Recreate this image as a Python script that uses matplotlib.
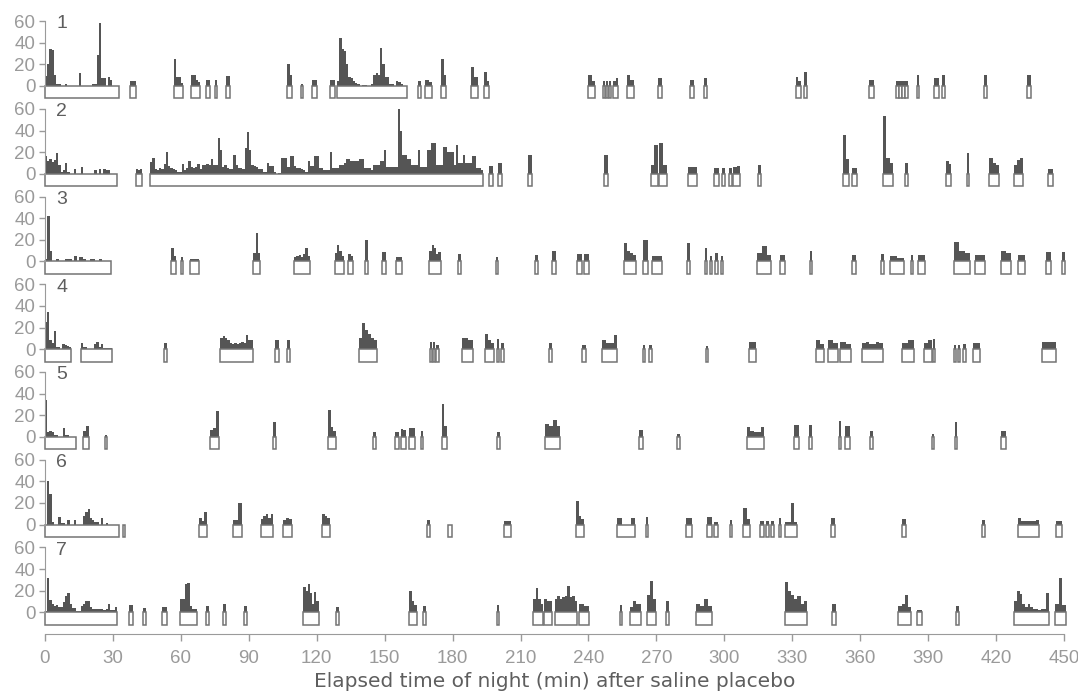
import matplotlib
matplotlib.use("Agg")
import matplotlib.pyplot as plt
from matplotlib.patches import Rectangle

plt.rcParams["font.family"] = ["Liberation Sans", "DejaVu Sans"]

# Each episode: (start min, end min, activity heights spread evenly over the episode)
night1 = [
    (0, 32.7, [9, 20, 34, 33, 10, 2, 2, 0, 0, 2, 0, 0, 0, 0, 0, 12, 0, 0, 0, 0, 0,
               2, 2, 29, 58, 7, 7, 0, 8, 6, 0, 0, 0]),
    (37.6, 40.2, [5]), (57, 61, [25, 8, 8, 3]), (64.5, 68.5, [10, 10, 6, 4]),
    (71, 73, [6]), (75, 76, [6]), (80, 81.5, [9]), (107, 109, [20, 10]),
    (113, 114, [2]), (118, 120, [6]), (126, 128, [6]),
    (129, 160, [5, 44, 34, 32, 20, 8, 7, 5, 3, 2, 0, 1, 1, 0, 0, 2, 10, 12, 10, 35,
                20, 8, 8, 2, 2, 0, 5, 4, 2, 0, 0]),
    (164.5, 166, [5]), (168, 171, [6, 4]), (175, 177, [25, 10]), (188, 191, [18, 8]),
    (194, 196, [13, 5]), (240, 243, [10, 5]), (246.5, 247.5, [5]), (247.8, 248.8, [5]),
    (249.1, 250.1, [5]), (251, 253, [5, 7]), (257, 260, [10, 6]), (270.5, 272.5, [7]),
    (285, 286.5, [6]), (291, 292.5, [7]), (331.5, 334, [8, 5]), (335, 336.5, [13]),
    (364, 366, [6]), (376, 377, [5]), (377.3, 378.3, [5]), (378.6, 379.6, [5]),
    (380, 381, [5]), (385, 386, [10]), (392.5, 395, [7]), (396, 397.5, [10]),
    (414.7, 416, [10]), (433.7, 435.5, [10]),
]

night2 = [
    (0, 31.7, [16, 12, 14, 11, 13, 19, 8, 2, 3, 10, 2, 0, 0, 4, 0, 0, 6, 0, 0, 0, 0,
               0, 3, 0, 4, 0, 4, 3, 3, 0, 0, 0]),
    (40, 43, [4, 3, 4]),
    (46.4, 193.5, [11, 15, 4, 3, 5, 4, 9, 20, 7, 5, 4, 3, 2, 2, 9, 3, 5, 12, 6, 5,
                   6, 9, 4, 8, 8, 9, 8, 14, 8, 8, 33, 22, 6, 8, 5, 4, 4, 17, 8, 5,
                   5, 4, 24, 39, 22, 8, 7, 6, 4, 4, 2, 2, 10, 7, 7, 2, 0, 1, 15, 15,
                   15, 6, 16, 16, 7, 5, 5, 4, 3, 2, 12, 7, 7, 16, 16, 5, 5, 3, 3, 3,
                   20, 5, 5, 5, 8, 8, 10, 14, 14, 12, 12, 12, 12, 14, 14, 5, 5, 5, 3, 8,
                   8, 8, 12, 12, 22, 6, 6, 6, 6, 6, 60, 40, 17, 17, 14, 14, 8, 8, 8, 22,
                   6, 6, 6, 22, 22, 28, 28, 8, 8, 8, 25, 25, 20, 20, 20, 8, 27, 10, 10, 17,
                   10, 10, 10, 16, 16, 5, 5, 3]),
    (196, 198, [7]), (200, 202, [10]), (213.5, 215, [17]), (246.7, 248.5, [17]),
    (267.5, 270.5, [8, 27]), (271, 274.5, [28, 8]), (284, 288, [6, 6]),
    (295.5, 297.5, [5]), (299, 300.5, [5]), (302, 303.6, [5]), (304, 307, [6, 7]),
    (315, 316, [8]), (352.5, 355, [36, 14]), (356.5, 358.5, [5]),
    (370, 374.5, [53, 15, 10]), (380, 381, [10]), (398, 400, [12, 9]),
    (407, 408, [19]), (417, 421.5, [15, 10, 8]), (428, 432, [8, 13, 15]),
    (443, 445, [4]),
]

night3 = [
    (0, 29, [2, 42, 10, 0, 0, 2, 0, 0, 0, 2, 2, 2, 0, 5, 0, 4, 4, 2, 0, 0, 2, 2, 0,
             0, 2, 0, 0, 0, 0]),
    (55.7, 58, [12, 5]), (60, 61, [4]), (64, 68, [2, 2]), (92, 95, [8, 26, 8]),
    (110, 117, [4, 5, 6, 4, 7, 12, 5]), (128, 132, [8, 15, 10, 5]), (134, 136, [7, 5]),
    (141.5, 142.5, [20]), (148.7, 150.8, [9]), (155, 157.5, [4, 4]),
    (169.7, 174.7, [10, 15, 12, 7, 9]), (182.2, 183.9, [7]), (199, 200, [4]),
    (216.5, 217.5, [6]), (224.1, 225.5, [10]), (235, 237.2, [7]), (238, 240.2, [7]),
    (255.5, 261.1, [17, 10, 8, 6]), (264.3, 266.4, [20]), (268, 272.6, [5, 5]),
    (283.5, 284.8, [17]), (291.5, 292.5, [12]), (293.5, 294.5, [5]), (296, 297, [8]),
    (298.4, 299.4, [5]), (314.5, 320.8, [8, 14, 6]), (324.6, 326.7, [6]),
    (337.7, 338.7, [10]), (356.4, 358.1, [6]), (369, 370.6, [7]), (373.1, 379.4, [5, 3]),
    (382.5, 383.5, [6]), (385.5, 388.8, [6]), (401.4, 408.7, [18, 10, 8]),
    (410.8, 415, [6]), (422.3, 426.5, [10, 8]), (429.7, 432.8, [6]), (442.2, 444.3, [9]),
    (449, 450.5, [9]),
]

night4 = [
    (0, 11.5, [25, 34, 8, 6, 17, 2, 2, 0, 5, 4, 3, 2]),
    (15.8, 29.6, [6, 2, 2, 0, 0, 0, 5, 7, 2, 5, 1, 1, 1, 1]),
    (52.6, 53.9, [6]),
    (77.4, 91.8, [10, 12, 10, 8, 6, 5, 6, 5, 6, 7, 6, 13, 8, 8]),
    (101.4, 103.5, [8]), (107, 108, [8]), (138.7, 146.6, [10, 24, 18, 14, 10, 8]),
    (169.8, 170.8, [7]), (171.2, 172.2, [7]), (172.6, 174, [4]), (184.3, 188.9, [10, 8]),
    (194.1, 198.5, [14, 8, 6]), (199.5, 200.5, [9]), (201.2, 202.5, [6]),
    (222.4, 224, [6]), (237, 238.7, [4]), (245.9, 252.8, [8, 6, 6, 13]),
    (263.9, 265, [4]), (266.8, 268, [4]), (292, 293, [3]), (310.7, 314.1, [7]),
    (340.7, 343.8, [8, 5]), (345.9, 350.1, [8, 6]), (351.2, 356, [7, 5]),
    (361, 370, [6, 7, 5, 5, 7, 6]), (378.4, 383.6, [6, 8]), (388.2, 391.5, [6, 8]),
    (392, 393, [9]), (401.4, 402.4, [4]), (403, 404, [4]), (405.6, 406.6, [5]),
    (409.8, 412.9, [6]), (440.1, 446.4, [7, 7]),
]

night5 = [
    (0, 13.7, [34, 4, 5, 4, 2, 2, 0, 0, 8, 2, 2, 0, 0, 0]),
    (16.6, 19.5, [5, 10]), (26.4, 27.6, [2]), (73, 76.8, [6, 8, 24]),
    (100.6, 101.8, [14]), (124.9, 128.6, [25, 9, 5]), (145, 146, [4]),
    (154.4, 156.5, [4]), (157, 159.6, [7, 6]), (160.6, 163.4, [8]), (165.9, 167.1, [5]),
    (175.3, 177.4, [30, 10]), (199.8, 201, [4]), (220.9, 227.6, [12, 10, 16, 10]),
    (262.2, 263.9, [6]), (279.3, 280.6, [3]), (310, 317.7, [9, 5, 4, 4, 9]),
    (330.8, 333, [11]), (337.5, 338.7, [11]), (350.5, 351.7, [15]), (353.2, 355.3, [10]),
    (364.3, 365.5, [5]), (391.5, 392.7, [3]), (401.8, 402.9, [14]), (422.3, 424.4, [5]),
]

night6 = [
    (0, 32.7, [0, 40, 28, 2, 0, 0, 7, 1, 1, 0, 4, 0, 0, 4, 0, 0, 0, 8, 12, 14, 6, 4,
               2, 2, 0, 6, 0, 1, 0, 0, 0, 0, 0]),
    (34.3, 35.3, [0]), (67.9, 71.7, [6, 3, 12]), (83.2, 86.9, [4, 20]),
    (95.3, 100.9, [5, 8, 10, 6, 10]), (105.3, 109, [4, 6, 5]), (122.2, 125.9, [10, 8, 6]),
    (168.6, 170.1, [4]), (178, 179.7, [0]), (202.5, 205.7, [3]), (234.5, 238, [22, 8, 5]),
    (252.8, 260.5, [6, 0, 0, 6]), (265.3, 266.5, [7]), (283.1, 285.6, [6]),
    (292.5, 294.6, [7]), (295.3, 297.4, [2]), (302.4, 303.6, [4]), (308.2, 311.4, [15, 5]),
    (315.6, 317.3, [3]), (318.2, 319.9, [3]), (320.5, 321.8, [3]), (324, 325.2, [6]),
    (327, 332.3, [2, 2, 20, 2]), (347, 348.8, [6]), (378.4, 380.4, [5]),
    (414, 415.2, [4]), (429.6, 439, [6, 3, 3, 3, 3, 4]), (446.4, 448.9, [3]),
]

night7 = [
    (0, 31.7, [1, 32, 11, 8, 6, 7, 5, 5, 9, 15, 18, 8, 4, 4, 1, 1, 6, 8, 10, 10, 5, 3,
               3, 3, 3, 3, 2, 3, 8, 2, 2, 5]),
    (37.3, 38.7, [7]), (43.4, 44.6, [4]), (51.5, 53.8, [5, 5]),
    (59.6, 67, [12, 12, 26, 27, 6, 3, 3]), (71.1, 72.6, [6]), (78.8, 80, [8]),
    (87.9, 89.4, [6]), (114.1, 120.8, [23, 20, 26, 18, 8, 19, 10]), (128.6, 130, [5]),
    (160.7, 164.2, [20, 10, 7]), (166.9, 168.1, [6]), (199.4, 200.6, [7]),
    (215.7, 219.9, [12, 22, 12, 8]), (220.3, 224.1, [12, 10, 10]),
    (225.1, 235, [12, 15, 12, 14, 15, 24, 14, 15, 10]), (236, 240.2, [8, 6]),
    (253.8, 255, [7]), (258.4, 263.2, [5, 10, 8, 8]), (266, 270, [16, 29, 12]),
    (274.3, 275.5, [10]), (287.7, 294.6, [8, 6, 12, 6]),
    (326.6, 336.5, [28, 20, 16, 12, 15, 8, 10]), (347.6, 349.1, [8]),
    (376.9, 382.6, [6, 8, 16, 5]), (385.3, 387.4, [2]), (402.5, 403.7, [6]),
    (428, 443.3, [10, 20, 17, 8, 5, 8, 5, 3, 3, 2, 3, 3, 18]), (446, 451, [8, 32, 7]),
]

nights = [night1, night2, night3, night4, night5, night6, night7]
y_ticks = [0, 20, 40, 60]
x_ticks = list(range(0, 451, 30))
x_label = "Elapsed time of night (min) after saline placebo"

BAR = "#555555"
BOX = "#747474"
GREY = "#9a9a9a"
DARK = "#5e5e5e"
BOX_DEPTH = 11.5

W, H = 1078, 691
fig = plt.figure(figsize=(W / 100, H / 100), dpi=100)

left_px, right_px = 45, 1064
px_per_unit = 1.08

for k, episodes in enumerate(nights):
    zero_px = 86 + 87.7 * k
    last = k == len(nights) - 1
    y_lo = -20.5 if last else -17
    top_px = zero_px - 63 * px_per_unit
    bottom_px = zero_px - y_lo * px_per_unit
    ax = fig.add_axes([left_px / W, 1 - bottom_px / H,
                       (right_px - left_px) / W, (bottom_px - top_px) / H])
    ax.set_xlim(0, 450)
    ax.set_ylim(y_lo, 63)
    ax.patch.set_visible(False)

    for start, end, heights in episodes:
        w = (end - start) / len(heights)
        lefts = [start + i * w for i in range(len(heights))]
        ax.bar(lefts, heights, width=w, align="edge", color=BAR,
               linewidth=0, clip_on=False)
        ax.add_patch(Rectangle((start, -BOX_DEPTH), end - start, BOX_DEPTH,
                               facecolor="white", edgecolor=BOX, lw=1.1,
                               clip_on=False))

    # night number in the top-left corner of each strip
    ax.text(7.3, 57.5, str(k + 1), fontsize=14, color=DARK,
            ha="center", va="center")

    for side in ("top", "right"):
        ax.spines[side].set_visible(False)
    ax.spines["left"].set_bounds(0, 60)
    ax.spines["left"].set_color(GREY)
    ax.set_yticks(y_ticks)
    ax.tick_params(axis="y", colors=GREY, labelsize=13.5, length=4, width=1, pad=3)

    if last:
        ax.spines["bottom"].set_bounds(0, 450)
        ax.spines["bottom"].set_color(GREY)
        ax.set_xticks(x_ticks)
        ax.tick_params(axis="x", colors=GREY, labelsize=13.5, length=5, width=1, pad=6)
        ax.set_xlabel(x_label, fontsize=14.5, color=DARK, labelpad=4,
                      family=["DejaVu Sans"])
    else:
        ax.spines["bottom"].set_visible(False)
        ax.set_xticks([])

fig.savefig("out.png", dpi=100)
